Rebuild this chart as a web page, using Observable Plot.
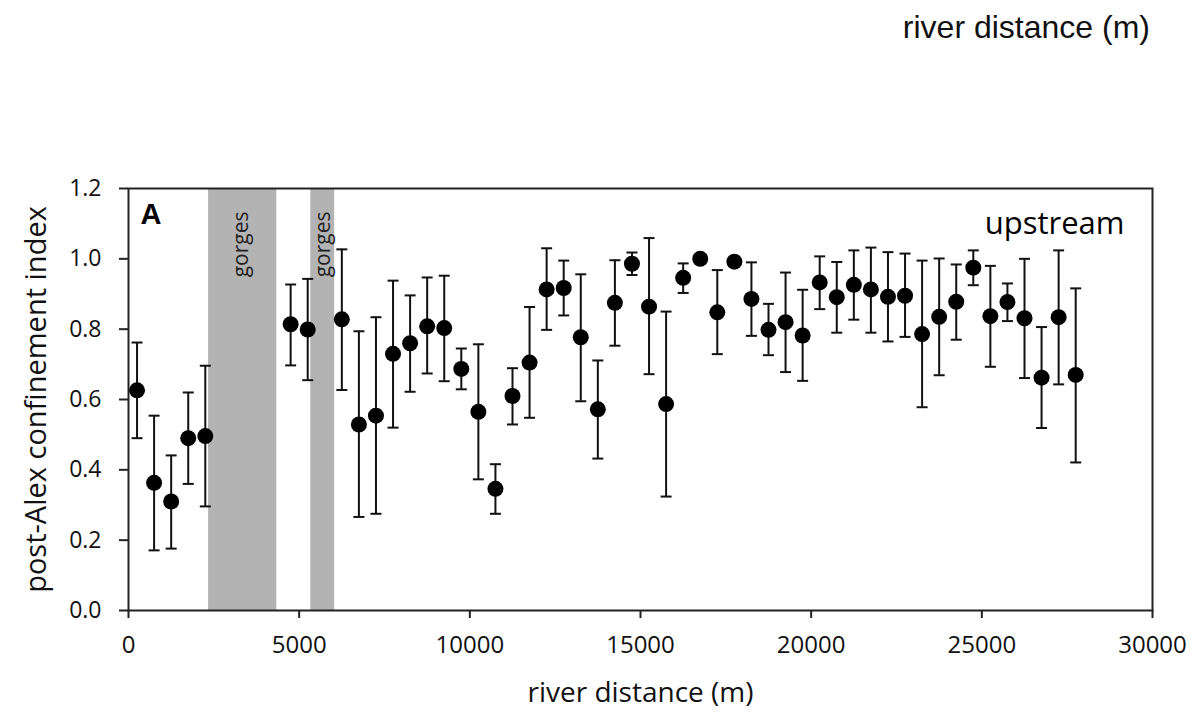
<!DOCTYPE html>
<html>
<head>
<meta charset="utf-8">
<script src="https://cdn.jsdelivr.net/npm/d3@7"></script>
<script src="https://cdn.jsdelivr.net/npm/@observablehq/plot@0.6"></script>
<style>
  html, body { margin: 0; padding: 0; background: #fff; }
  #top { height: 60px; box-sizing: border-box; padding-top: 11px; padding-right: 42px; text-align: right;
         font-family: "Liberation Sans", Arial, sans-serif; font-size: 32px; line-height: 32px; color: #111; }
  #chart svg { display: block; }
</style>
</head>
<body>
<div id="top">river distance (m)</div>
<div id="chart"></div>
<script>
const distance = [250, 750, 1250, 1750, 2250, 4750, 5250, 6250, 6750, 7250, 7750, 8250, 8750, 9250, 9750,
  10250, 10750, 11250, 11750, 12250, 12750, 13250, 13750, 14250, 14750, 15250, 15750, 16250, 16750, 17250,
  17750, 18250, 18750, 19250, 19750, 20250, 20750, 21250, 21750, 22250, 22750, 23250, 23750, 24250, 24750,
  25250, 25750, 26250, 26750, 27250, 27750];
const confinement = [0.626, 0.363, 0.310, 0.490, 0.496, 0.814, 0.799, 0.828, 0.529, 0.554, 0.730, 0.760, 0.808, 0.803, 0.687,
  0.565, 0.346, 0.610, 0.705, 0.913, 0.917, 0.777, 0.572, 0.875, 0.986, 0.864, 0.587, 0.946, 1.000, 0.848,
  0.992, 0.886, 0.798, 0.820, 0.782, 0.933, 0.891, 0.926, 0.913, 0.892, 0.895, 0.786, 0.835, 0.878, 0.975,
  0.837, 0.877, 0.831, 0.662, 0.834, 0.670];
const lower = [0.490, 0.171, 0.176, 0.360, 0.296, 0.697, 0.655, 0.627, 0.266, 0.275, 0.520, 0.622, 0.674, 0.652, 0.629,
  0.373, 0.275, 0.529, 0.548, 0.798, 0.839, 0.595, 0.432, 0.753, 0.954, 0.672, 0.324, 0.903, null, 0.729,
  null, 0.781, 0.726, 0.678, 0.653, 0.857, 0.790, 0.827, 0.790, 0.765, 0.778, 0.578, 0.669, 0.770, 0.925,
  0.693, 0.823, 0.661, 0.519, 0.643, 0.421];
const upper = [0.762, 0.554, 0.441, 0.620, 0.696, 0.927, 0.943, 1.027, 0.794, 0.834, 0.938, 0.896, 0.947, 0.952, 0.745,
  0.757, 0.416, 0.689, 0.863, 1.030, 0.995, 0.956, 0.711, 0.996, 1.018, 1.059, 0.850, 0.987, null, 0.968,
  null, 0.990, 0.872, 0.961, 0.912, 1.007, 0.991, 1.024, 1.032, 1.019, 1.015, 0.995, 1.001, 0.984, 1.024,
  0.980, 0.930, 1.000, 0.806, 1.024, 0.916];
const gorgeStart = [2345, 5340];
const gorgeEnd = [4345, 6040];
const gorgeLabelX = [3300, 5720];
const xTicks = [0, 5000, 10000, 15000, 20000, 25000, 30000];
const yTicks = [0, 0.2, 0.4, 0.6, 0.8, 1.0, 1.2];

const points = distance.map((d, i) => ({x: d, y: confinement[i], lo: lower[i], hi: upper[i]}));
const bars = points.filter(d => d.lo != null && d.hi != null);
const gorges = gorgeStart.map((s, i) => ({start: s, end: gorgeEnd[i], lx: gorgeLabelX[i], label: "gorges"}));

const cap = { draw(context) { context.moveTo(-5.5, 0); context.lineTo(5.5, 0); } };
const ink = "#111";

const chart = Plot.plot({
  width: 1192,
  height: 654,
  marginTop: 128,
  marginBottom: 104,
  marginLeft: 128,
  marginRight: 40,
  style: {fontFamily: "'Open Sans', sans-serif", color: ink, background: "#fff"},
  x: {domain: [0, 30000]},
  y: {domain: [0, 1.2]},
  marks: [
    Plot.rect(gorges, {x1: "start", x2: "end", fill: "#b3b3b3"}),
    Plot.text(gorges, {x: "lx", text: "label", frameAnchor: "top", rotate: -90, textAnchor: "end",
      lineAnchor: "middle", dy: 23, fontSize: 21, fill: "#222"}),
    Plot.frame({stroke: "#222", strokeWidth: 2}),
    Plot.ruleX(bars, {x: "x", y1: "lo", y2: "hi", stroke: ink, strokeWidth: 2}),
    Plot.dot(bars, {x: "x", y: "hi", symbol: cap, r: 5, fill: "none", stroke: ink, strokeWidth: 2}),
    Plot.dot(bars, {x: "x", y: "lo", symbol: cap, r: 5, fill: "none", stroke: ink, strokeWidth: 2}),
    Plot.dot(points, {x: "x", y: "y", r: 8, fill: "#000", stroke: "none"}),
    Plot.axisX({ticks: xTicks, tickFormat: d => String(d), tickSize: 8, tickPadding: 17, fontSize: 24,
      strokeWidth: 2, stroke: "#222", label: null}),
    Plot.axisY({ticks: yTicks, tickFormat: d3.format(".1f"), tickSize: 9, tickPadding: 18, fontSize: 23,
      strokeWidth: 2, stroke: "#222", label: null}),
    Plot.text(["post-Alex confinement index"], {frameAnchor: "left", rotate: -90, dx: -92, fontSize: 29,
      textAnchor: "middle", lineAnchor: "middle", fill: ink}),
    Plot.text(["river distance (m)"], {frameAnchor: "bottom", dy: 83, fontSize: 28, lineAnchor: "middle", fill: ink}),
    Plot.text(["A"], {frameAnchor: "top-left", dx: 12, dy: 15, textAnchor: "start", lineAnchor: "top",
      fontSize: 29, fontWeight: "bold", fontFamily: "'Liberation Sans', Arial, sans-serif", fill: "#000"}),
    Plot.text(["upstream"], {frameAnchor: "top-right", dx: -28, dy: 23, textAnchor: "end", lineAnchor: "top",
      fontSize: 31, fill: "#000"})
  ]
});
document.getElementById("chart").appendChild(chart);
</script>
</body>
</html>
